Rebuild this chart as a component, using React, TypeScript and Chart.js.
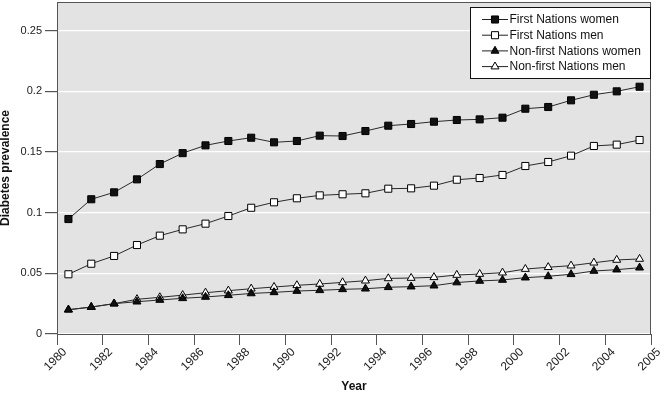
import React, { useEffect, useRef } from 'react';
import { Chart, registerables } from 'chart.js';

Chart.register(...registerables);

// ---- data ----
const years = [
  1980, 1981, 1982, 1983, 1984, 1985, 1986, 1987, 1988, 1989, 1990, 1991, 1992,
  1993, 1994, 1995, 1996, 1997, 1998, 1999, 2000, 2001, 2002, 2003, 2004, 2005,
];

const seriesNames = [
  'First Nations women',
  'First Nations men',
  'Non-first Nations women',
  'Non-first Nations men',
];

const firstNationsWomen = [
  0.0947, 0.111, 0.1167, 0.1274, 0.14, 0.149, 0.1554, 0.159, 0.1617, 0.1579, 0.159,
  0.1634, 0.1631, 0.1672, 0.1716, 0.173, 0.1749, 0.1763, 0.1768, 0.1782, 0.1856,
  0.187, 0.1925, 0.1971, 0.1999, 0.2037,
];

const firstNationsMen = [
  0.0492, 0.0579, 0.0643, 0.0733, 0.081, 0.0862, 0.0909, 0.0972, 0.104, 0.1085,
  0.1118, 0.1142, 0.1151, 0.1159, 0.1197, 0.12, 0.1222, 0.1271, 0.1285, 0.131,
  0.1384, 0.1417, 0.1469, 0.1549, 0.156, 0.1598,
];

const nonFirstNationsWomen = [
  0.02, 0.0222, 0.025, 0.0266, 0.028, 0.0294, 0.0305, 0.0319, 0.0334, 0.0343,
  0.0354, 0.036, 0.0368, 0.0373, 0.0385, 0.039, 0.0398, 0.0424, 0.0437, 0.0445,
  0.0464, 0.0475, 0.0492, 0.0519, 0.053, 0.0546,
];

const nonFirstNationsMen = [
  0.02, 0.0222, 0.025, 0.0286, 0.0302, 0.032, 0.034, 0.0357, 0.0373, 0.0387,
  0.0401, 0.0412, 0.0425, 0.0439, 0.0458, 0.0461, 0.0467, 0.0486, 0.0494, 0.0505,
  0.0535, 0.055, 0.0563, 0.0587, 0.061, 0.0618,
];

const xTickValues = [1980, 1982, 1984, 1986, 1988, 1990, 1992, 1994, 1996, 1998, 2000, 2002, 2004, 2006];
const xTickLabels = ['1980', '1982', '1984', '1986', '1988', '1990', '1992', '1994', '1996', '1998', '2000', '2002', '2004', '2005'];
const yTickValues = [0, 0.05, 0.1, 0.15, 0.2, 0.25];
const yTickLabels = ['0', '0.05', '0.1', '0.15', '0.2', '0.25'];

const FONT = "'Liberation Sans', Arial, Helvetica, sans-serif";

const styles = [
  { pointStyle: 'rect', fill: '#111111', radius: 5 },
  { pointStyle: 'rect', fill: '#ffffff', radius: 5 },
  { pointStyle: 'triangle', fill: '#111111', radius: 4.6 },
  { pointStyle: 'triangle', fill: '#ffffff', radius: 4.6 },
];

const seriesValues = [firstNationsWomen, firstNationsMen, nonFirstNationsWomen, nonFirstNationsMen];

function drawMarker(ctx: CanvasRenderingContext2D, style: string, x: number, y: number, r: number, fill: string) {
  ctx.beginPath();
  if (style === 'rect') {
    const s = Math.SQRT1_2 * r;
    ctx.rect(x - s, y - s, 2 * s, 2 * s);
  } else {
    ctx.moveTo(x, y - r);
    ctx.lineTo(x + Math.sin((2 * Math.PI) / 3) * r, y + r / 2);
    ctx.lineTo(x - Math.sin((2 * Math.PI) / 3) * r, y + r / 2);
    ctx.closePath();
  }
  ctx.fillStyle = fill;
  ctx.fill();
  ctx.strokeStyle = '#000';
  ctx.lineWidth = 1;
  ctx.stroke();
}

const plotBgPlugin = {
  id: 'plotBg',
  beforeDraw(chart: any) {
    const { ctx, chartArea: a } = chart;
    ctx.save();
    ctx.fillStyle = '#e3e3e3';
    ctx.fillRect(a.left, a.top, a.right - a.left, a.bottom - a.top);
    ctx.restore();
  },
  beforeDatasetsDraw(chart: any) {
    const { ctx, chartArea: a } = chart;
    ctx.save();
    ctx.strokeStyle = '#555';
    ctx.lineWidth = 1;
    ctx.strokeRect(Math.round(a.left) + 0.5, Math.round(a.top) + 0.5, Math.round(a.right - a.left) - 1, Math.round(a.bottom - a.top));
    ctx.restore();
  },
};

const boxLegendPlugin = {
  id: 'boxLegend',
  afterDraw(chart: any) {
    const { ctx, chartArea: a } = chart;
    const w = 181;
    const h = 72;
    const x0 = Math.round(a.right) - w;
    const y0 = Math.round(a.top) + 5;
    ctx.save();
    ctx.fillStyle = '#fff';
    ctx.fillRect(x0, y0, w, h);
    ctx.strokeStyle = '#111';
    ctx.lineWidth = 1;
    ctx.strokeRect(x0 + 0.5, y0 + 0.5, w - 1, h - 1);
    chart.data.datasets.forEach((ds: any, i: number) => {
      const cy = y0 + 12.5 + i * 15.7;
      ctx.strokeStyle = '#222';
      ctx.lineWidth = 1;
      ctx.beginPath();
      ctx.moveTo(x0 + 12, cy);
      ctx.lineTo(x0 + 38, cy);
      ctx.stroke();
      drawMarker(ctx, styles[i].pointStyle, x0 + 25, cy, styles[i].radius, styles[i].fill);
      ctx.fillStyle = '#111';
      ctx.font = `12px ${FONT}`;
      ctx.textAlign = 'left';
      ctx.textBaseline = 'middle';
      ctx.fillText(ds.label, x0 + 39.5, cy + 0.5);
    });
    ctx.restore();
  },
};

export default function App() {
  const canvasRef = useRef<HTMLCanvasElement | null>(null);

  useEffect(() => {
    document.body.style.margin = '0';
    const canvas = canvasRef.current;
    if (!canvas) return;

    const datasets = seriesNames.map((name, i) => ({
      label: name,
      // each annual value is plotted at mid-year
      data: years.map((yr, j) => ({ x: yr + 0.5, y: seriesValues[i][j] })),
      borderColor: '#2a2a2a',
      borderWidth: 1,
      pointStyle: styles[i].pointStyle,
      pointRadius: styles[i].radius,
      pointBackgroundColor: styles[i].fill,
      pointBorderColor: '#000',
      pointBorderWidth: 1,
      tension: 0,
      fill: false,
    }));

    const chart = new Chart(canvas, {
      type: 'line',
      data: { datasets },
      plugins: [plotBgPlugin, boxLegendPlugin],
      options: {
        animation: false,
        responsive: false,
        maintainAspectRatio: false,
        layout: { autoPadding: false, padding: { left: 0, top: 2, right: 14, bottom: 0 } },
        font: { family: FONT },
        plugins: {
          legend: { display: false },
          tooltip: { enabled: false },
        },
        scales: {
          x: {
            type: 'linear',
            min: 1980,
            max: 2006,
            afterBuildTicks: (scale: any) => {
              scale.ticks = xTickValues.map((v) => ({ value: v }));
            },
            afterFit: (scale: any) => {
              scale.height = 61;
              scale.paddingLeft = 0;
              scale.paddingRight = 0;
            },
            ticks: {
              autoSkip: false,
              maxRotation: 45,
              minRotation: 45,
              labelOffset: 8,
              padding: 0,
              color: '#222',
              font: { family: FONT, size: 12 },
              callback: (_v: any, idx: number) => xTickLabels[idx],
            },
            grid: {
              drawOnChartArea: false,
              drawTicks: true,
              tickLength: 11,
              color: '#555',
              tickColor: '#555',
            },
            border: { display: true, color: '#555', width: 1 },
            title: {
              display: true,
              text: 'Year',
              color: '#111',
              font: { family: FONT, size: 12, weight: 'bold' },
              padding: { top: 0, bottom: 1 },
            },
          },
          y: {
            type: 'linear',
            min: 0,
            max: 0.2735,
            afterBuildTicks: (scale: any) => {
              scale.ticks = yTickValues.map((v) => ({ value: v }));
            },
            afterFit: (scale: any) => {
              scale.width = 57;
              scale.paddingTop = 0;
              scale.paddingBottom = 0;
            },
            ticks: {
              padding: 3,
              color: '#222',
              font: { family: FONT, size: 11 },
              callback: (_v: any, idx: number) => yTickLabels[idx],
            },
            grid: {
              drawOnChartArea: true,
              drawTicks: true,
              tickLength: 12,
              color: '#ffffff',
              tickColor: '#555',
              lineWidth: 1.2,
            },
            border: { display: true, color: '#555', width: 1 },
            title: {
              display: true,
              text: 'Diabetes prevalence',
              color: '#111',
              font: { family: FONT, size: 12, weight: 'bold', lineHeight: 1 },
              padding: { top: 0, bottom: 0 },
            },
          },
        },
      },
    });

    return () => {
      chart.destroy();
    };
  }, []);

  return (
    <div style={{ width: 665, height: 395 }}>
      <canvas ref={canvasRef} width={665} height={395} style={{ display: 'block' }} />
    </div>
  );
}
